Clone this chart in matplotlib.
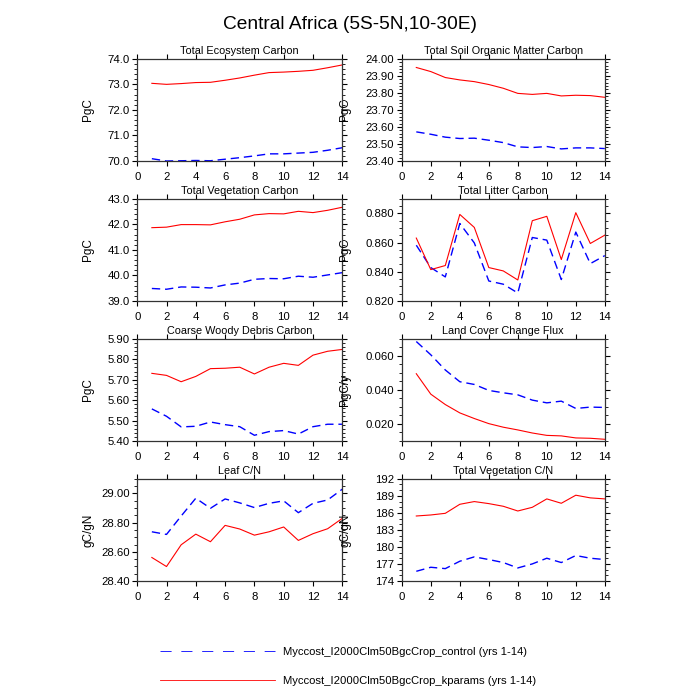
import matplotlib
matplotlib.use("Agg")
import matplotlib.pyplot as plt
from matplotlib.ticker import MultipleLocator, FormatStrFormatter

plt.rcParams['font.family'] = ['Liberation Sans', 'DejaVu Sans']
plt.rcParams['lines.scale_dashes'] = False

years = list(range(1, 15))

label_control = "Myccost_I2000Clm50BgcCrop_control (yrs 1-14)"
label_kparams = "Myccost_I2000Clm50BgcCrop_kparams (yrs 1-14)"

eco_control = [70.09, 70.00, 70.01, 70.02, 70.01, 70.07, 70.13, 70.20, 70.28, 70.28, 70.31, 70.34, 70.42, 70.52]
eco_kparams = [73.04, 73.00, 73.03, 73.07, 73.08, 73.16, 73.25, 73.36, 73.46, 73.48, 73.51, 73.55, 73.65, 73.76]

soil_control = [23.571, 23.557, 23.540, 23.532, 23.534, 23.522, 23.508, 23.483, 23.479, 23.485, 23.471, 23.477, 23.477, 23.473]
soil_kparams = [23.949, 23.925, 23.890, 23.876, 23.866, 23.849, 23.827, 23.797, 23.791, 23.797, 23.782, 23.786, 23.784, 23.774]

veg_control = [39.49, 39.46, 39.55, 39.54, 39.51, 39.63, 39.70, 39.85, 39.88, 39.87, 39.97, 39.93, 40.02, 40.11]
veg_kparams = [41.87, 41.89, 41.99, 41.99, 41.98, 42.10, 42.20, 42.37, 42.42, 42.41, 42.51, 42.46, 42.55, 42.67]

litter_control = [0.8582, 0.8429, 0.8365, 0.8731, 0.8598, 0.8337, 0.8315, 0.8255, 0.8635, 0.8617, 0.8347, 0.8672, 0.8456, 0.8511]
litter_kparams = [0.8631, 0.8415, 0.8443, 0.8793, 0.8704, 0.8429, 0.8406, 0.8344, 0.8750, 0.8780, 0.8484, 0.8805, 0.8594, 0.8651]

cwd_control = [5.557, 5.521, 5.469, 5.472, 5.493, 5.480, 5.470, 5.428, 5.446, 5.451, 5.434, 5.470, 5.482, 5.482]
cwd_kparams = [5.731, 5.721, 5.690, 5.716, 5.754, 5.756, 5.761, 5.728, 5.761, 5.780, 5.770, 5.820, 5.839, 5.848]

lcc_control = [0.0684, 0.0606, 0.0517, 0.0448, 0.0432, 0.0397, 0.0383, 0.0371, 0.0340, 0.0324, 0.0334, 0.0291, 0.0299, 0.0297]
lcc_kparams = [0.0495, 0.0375, 0.0314, 0.0265, 0.0232, 0.0202, 0.0181, 0.0165, 0.0147, 0.0133, 0.0130, 0.0118, 0.0116, 0.0110]

leafcn_control = [28.737, 28.719, 28.845, 28.967, 28.898, 28.962, 28.935, 28.903, 28.932, 28.949, 28.868, 28.932, 28.955, 29.029]
leafcn_kparams = [28.561, 28.499, 28.648, 28.721, 28.669, 28.781, 28.756, 28.714, 28.737, 28.770, 28.678, 28.724, 28.758, 28.829]

vegcn_control = [175.71, 176.42, 176.18, 177.48, 178.25, 177.78, 177.25, 176.30, 177.01, 178.01, 177.25, 178.49, 178.01, 177.78]
vegcn_kparams = [185.45, 185.63, 185.92, 187.51, 187.99, 187.63, 187.16, 186.33, 186.98, 188.46, 187.69, 189.11, 188.64, 188.46]

# title, units, control, kparams, ylim, major step, minor step, format
panels = [
    ("Total Ecosystem Carbon", "PgC", eco_control, eco_kparams, (70.0, 74.0), 1.0, 0.2, "%.1f"),
    ("Total Soil Organic Matter Carbon", "PgC", soil_control, soil_kparams, (23.4, 24.0), 0.1, 0.02, "%.2f"),
    ("Total Vegetation Carbon", "PgC", veg_control, veg_kparams, (39.0, 43.0), 1.0, 0.2, "%.1f"),
    ("Total Litter Carbon", "PgC", litter_control, litter_kparams, (0.82, 0.89), 0.02, 0.005, "%.3f"),
    ("Coarse Woody Debris Carbon", "PgC", cwd_control, cwd_kparams, (5.4, 5.9), 0.1, 0.02, "%.2f"),
    ("Land Cover Change Flux", "PgC/y", lcc_control, lcc_kparams, (0.01, 0.07), 0.02, 0.005, "%.3f"),
    ("Leaf C/N", "gC/gN", leafcn_control, leafcn_kparams, (28.4, 29.1), 0.2, 0.05, "%.2f"),
    ("Total Vegetation C/N", "gC/gN", vegcn_control, vegcn_kparams, (174, 192), 3, 1, "%d"),
]

fig = plt.figure(figsize=(7, 7), dpi=100)
fig.suptitle("Central Africa (5S-5N,10-30E)", y=0.977, fontsize=13.8)

row_bottoms = [0.770, 0.570, 0.370, 0.170]
col_lefts = [0.196, 0.574]
col_widths = [0.293, 0.290]
label_x = [-0.21, -0.248]

for i, (title, units, ctrl, kp, ylim, major, minor, fmt) in enumerate(panels):
    row, col = i // 2, i % 2
    ax = fig.add_axes([col_lefts[col], row_bottoms[row], col_widths[col], 0.146])
    ax.plot(years, ctrl, color="#0000ff", lw=1.0, dashes=(6, 3.5), label=label_control)
    ax.plot(years, kp, color="#ff0000", lw=0.8, label=label_kparams)
    ax.set_xlim(0, 14)
    ax.set_ylim(*ylim)
    ax.xaxis.set_major_locator(MultipleLocator(2))
    ax.yaxis.set_major_locator(MultipleLocator(major))
    ax.yaxis.set_minor_locator(MultipleLocator(minor))
    ax.yaxis.set_major_formatter(FormatStrFormatter(fmt))
    ax.tick_params(axis="both", which="both", direction="out", top=True, right=True, labelsize=8.2)
    ax.tick_params(axis="both", which="major", length=3.5, width=0.8)
    ax.tick_params(axis="both", which="minor", length=2, width=0.6)
    ax.tick_params(axis="x", pad=4.5)
    ax.tick_params(axis="y", pad=2)
    for s in ax.spines.values():
        s.set_linewidth(0.9)
        s.set_color("#333333")
    ax.set_title(title, fontsize=7.8, pad=3.5)
    ax.set_ylabel(units, fontsize=8.5)
    ax.yaxis.set_label_coords(label_x[col], 0.5)

leg_ctrl = plt.Line2D([], [], color="#0000ff", lw=0.6, dashes=(8, 7))
leg_kp = plt.Line2D([], [], color="#ff0000", lw=0.6)
fig.legend([leg_ctrl, leg_kp], [label_control, label_kparams],
           loc="upper left", bbox_to_anchor=(0.2286, 0.076), frameon=False,
           fontsize=8.1, handlelength=10.2, handletextpad=0.75, labelspacing=1.7,
           borderpad=0, borderaxespad=0)

fig.savefig("out.png", dpi=100)
